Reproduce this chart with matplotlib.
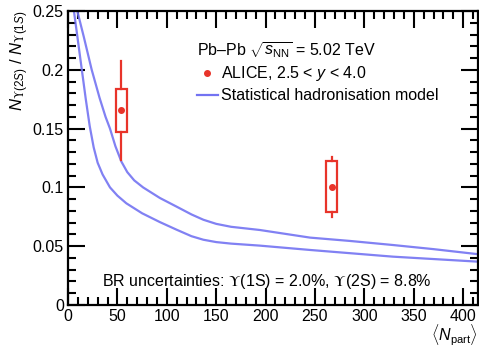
import numpy as np
import matplotlib.pyplot as plt
from matplotlib.lines import Line2D

plt.rcParams['font.family'] = ['Liberation Sans', 'DejaVu Sans']
plt.rcParams['mathtext.fontset'] = 'custom'
plt.rcParams['mathtext.rm'] = 'Liberation Sans'
plt.rcParams['mathtext.it'] = 'Liberation Sans:italic'
plt.rcParams['mathtext.bf'] = 'Liberation Sans:bold'
plt.rcParams['mathtext.sf'] = 'STIXGeneral'

# ALICE data
npart = [54, 267]
ratio = [0.1656, 0.1001]
stat_lo = [0.1233, 0.0751]
stat_hi = [0.2075, 0.126]
syst_lo = [0.1474, 0.0788]
syst_hi = [0.1837, 0.1224]
box_half = 5.4

# statistical hadronisation model band edges
shm_hi_x = [9.4, 16, 24, 32, 38, 42.5, 48, 54, 60, 67, 76, 93, 110, 125, 137, 150, 165, 194,
            245, 285, 329, 370, 416]
shm_hi_y = [0.25, 0.228, 0.2, 0.176, 0.16, 0.15, 0.135, 0.122, 0.113, 0.106, 0.1, 0.091, 0.0836,
            0.077, 0.0725, 0.069, 0.0665, 0.0638, 0.0573, 0.0545, 0.051, 0.0475, 0.0431]
shm_lo_x = [6, 10, 14, 18, 22, 26, 30, 35, 42.5, 50, 59, 75, 93, 110, 125, 137, 150, 165, 194,
            245, 329, 416]
shm_lo_y = [0.25, 0.225, 0.2, 0.175, 0.152, 0.134, 0.121, 0.111, 0.1, 0.093, 0.0865, 0.078,
            0.0705, 0.064, 0.0585, 0.0555, 0.0535, 0.0522, 0.0505, 0.0468, 0.0411, 0.0368]

red = '#e8342a'
blue = '#7373f2'

fig = plt.figure(figsize=(4.79, 3.49), dpi=100)
ax = fig.add_axes([68/479, 1-305/349, 410/479, 294/349])

ax.plot(shm_hi_x, shm_hi_y, color=blue, lw=1.6, alpha=0.9)
ax.plot(shm_lo_x, shm_lo_y, color=blue, lw=1.6, alpha=0.9)

for x, y, sl, sh, bl, bh in zip(npart, ratio, stat_lo, stat_hi, syst_lo, syst_hi):
    ax.plot([x, x], [sl, bl], color=red, lw=1.6)
    ax.plot([x, x], [bh, sh], color=red, lw=1.6)
    ax.add_patch(plt.Rectangle((x-box_half, bl), 2*box_half, bh-bl, fill=False,
                               edgecolor=red, lw=1.6))
ax.plot(npart, ratio, 'o', color=red, ms=4)

ax.set_xlim(0, 415)
ax.set_ylim(0, 0.25)
ax.set_xticks(np.arange(0, 401, 50))
ax.set_xticks(np.arange(0, 415, 10), minor=True)
ax.set_yticks([0, 0.05, 0.1, 0.15, 0.2, 0.25])
ax.set_yticklabels(['0', '0.05', '0.1', '0.15', '0.2', '0.25'])
ax.set_yticks(np.arange(0, 0.251, 0.01), minor=True)
ax.tick_params(which='both', direction='in', top=True, right=True, labelsize=11.5, width=1.5)
ax.tick_params(which='major', length=12, pad=3)
ax.tick_params(which='minor', length=6)
for s in ax.spines.values():
    s.set_linewidth(1.6)

ax.set_ylabel(r'$N_{\mathsf{\Upsilon}(2S)}$ / $N_{\mathsf{\Upsilon}(1S)}$', fontsize=12,
              loc='top', labelpad=1)
ax.set_xlabel(r'$\langle N_{\rm part}\rangle$', fontsize=11.5, loc='right', labelpad=-1)

handles = [Line2D([], [], marker='o', color=red, ls='none', ms=4),
           Line2D([], [], color=blue, lw=1.6)]
leg = ax.legend(handles, [r'ALICE, 2.5 < $y$ < 4.0', 'Statistical hadronisation model'],
                title=r'Pb–Pb $\sqrt{s_{\rm NN}}$ = 5.02 TeV', title_fontsize=11.5,
                fontsize=11.5, frameon=False, loc='upper left', bbox_to_anchor=(0.294, 0.93),
                borderpad=0, handlelength=1.35, handletextpad=0.2, labelspacing=0.3,
                alignment='left')

ax.text(0.083, 0.065,
        r'BR uncertainties: $\mathsf{\Upsilon}$(1S) = 2.0%, $\mathsf{\Upsilon}$(2S) = 8.8%',
        transform=ax.transAxes, fontsize=11.5)

fig.savefig('out.png', dpi=100)
